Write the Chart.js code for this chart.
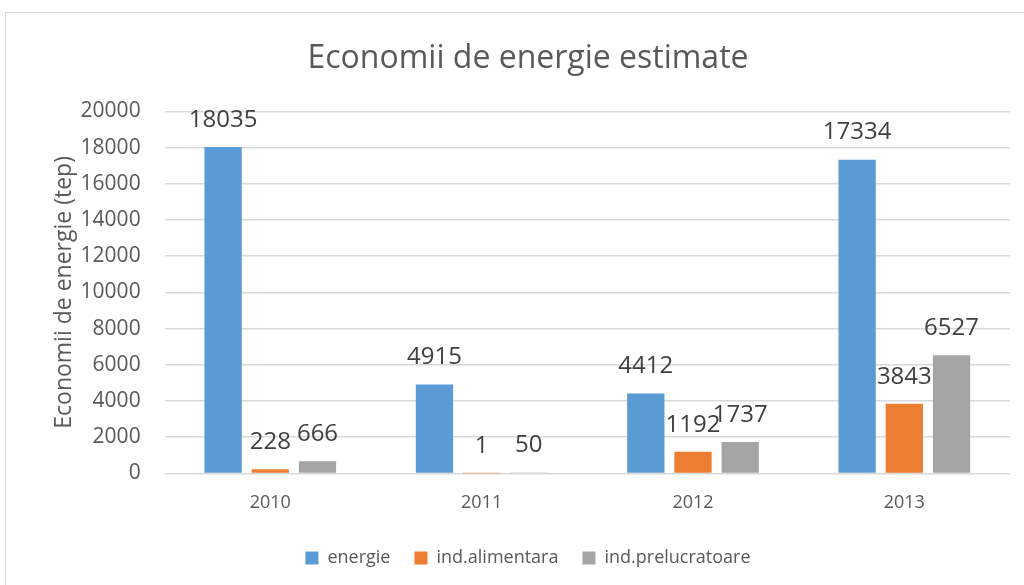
<!DOCTYPE html>
<html>
<head>
<meta charset="utf-8">
<script src="https://cdn.jsdelivr.net/npm/chart.js@4"></script>
<style>
    body { margin: 0; background: #fff; overflow: hidden; }
    #frame { position: absolute; left: 5px; top: 12px; width: 1100px; height: 700px; border: 1px solid #d9d9d9; }
    #wrap { position: absolute; left: 0; top: 0; width: 1024px; height: 585px; }
</style>
</head>
<body>
<div id="frame"></div>
<div id="wrap"><canvas id="chart" width="1024" height="585"></canvas></div>
<script>
const years = ["2010", "2011", "2012", "2013"];
const energie = [18035, 4915, 4412, 17334];
const indAlimentara = [228, 1, 1192, 3843];
const indPrelucratoare = [666, 50, 1737, 6527];
const yTicks = [0, 2000, 4000, 6000, 8000, 10000, 12000, 14000, 16000, 18000, 20000];

const fontName = "'Open Sans', 'Liberation Sans', sans-serif";

// value labels above each bar
const barLabels = {
    id: "barLabels",
    afterDatasetsDraw(chart) {
        const ctx = chart.ctx;
        ctx.save();
        ctx.font = "24px " + fontName;
        ctx.fillStyle = "#404040";
        ctx.textAlign = "center";
        ctx.textBaseline = "middle";
        chart.data.datasets.forEach((ds, i) => {
            const meta = chart.getDatasetMeta(i);
            meta.data.forEach((bar, j) => {
                ctx.fillText(String(ds.data[j]), bar.x, bar.y - 27);
            });
        });
        ctx.restore();
    }
};

new Chart(document.getElementById("chart"), {
    type: "bar",
    data: {
        labels: years,
        datasets: [
            { label: "energie", data: energie, backgroundColor: "#5B9BD5" },
            { label: "ind.alimentara", data: indAlimentara, backgroundColor: "#ED7D31" },
            { label: "ind.prelucratoare", data: indPrelucratoare, backgroundColor: "#A5A5A5" }
        ]
    },
    options: {
        responsive: false,
        animation: false,
        categoryPercentage: 0.67,
        barPercentage: 0.79,
        layout: { padding: { left: 46, right: 14, top: 40, bottom: 8 } },
        plugins: {
            title: {
                display: true,
                text: "Economii de energie estimate",
                color: "#595959",
                font: { family: fontName, size: 32, weight: "normal" },
                padding: { top: 0, bottom: 33 }
            },
            legend: {
                position: "bottom",
                labels: {
                    color: "#595959",
                    font: { family: fontName, size: 18 },
                    boxWidth: 13,
                    boxHeight: 13,
                    padding: 24
                }
            },
            tooltip: { enabled: false }
        },
        scales: {
            x: {
                grid: { display: false },
                border: { display: false },
                ticks: { color: "#595959", font: { family: fontName, size: 18 }, padding: 11 }
            },
            y: {
                min: 0,
                max: 20000,
                afterBuildTicks(axis) { axis.ticks = yTicks.map(v => ({ value: v })); },
                grid: { color: "#d9d9d9", lineWidth: 1.5, drawTicks: false },
                border: { display: false },
                ticks: {
                    color: "#595959",
                    font: { family: fontName, size: 21 },
                    padding: 24,
                    callback: v => String(v)
                },
                title: {
                    display: true,
                    text: "Economii de energie (tep)",
                    color: "#595959",
                    font: { family: fontName, size: 23 },
                    padding: { top: 5, bottom: -22 }
                }
            }
        }
    },
    plugins: [barLabels]
});
</script>
</body>
</html>
